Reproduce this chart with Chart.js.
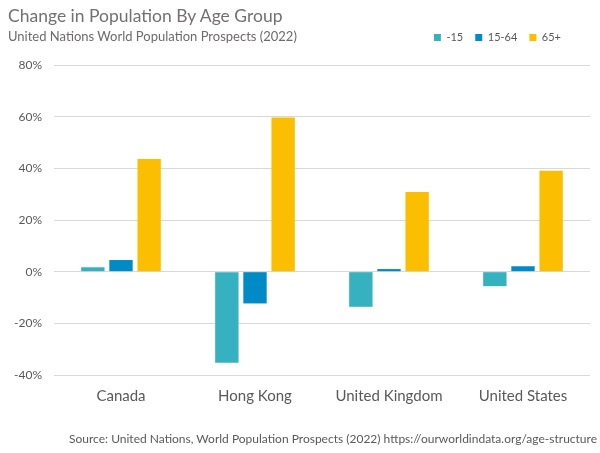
<!DOCTYPE html>
<html lang="en">
<head>
<meta charset="UTF-8">
<title>Change in Population By Age Group</title>
<script src="https://cdn.jsdelivr.net/npm/chart.js"></script>
<style>
    body { margin: 0; background: #fff; font-family: Lato, sans-serif; }
    .quadro { position: relative; width: 600px; height: 453px; }
    .quadro canvas { position: absolute; left: 0; top: 0; }
    .titulo { position: absolute; left: 8px; top: 5px; font-size: 17.5px; color: #757070; }
    .subtitulo { position: absolute; left: 8px; top: 28px; font-size: 13px; color: #6f6a6a; }
    .fonte { position: absolute; right: 3px; top: 431px; font-size: 12px; color: #595959; }
</style>
</head>
<body>
<div class="quadro">
    <canvas id="grafico" width="600" height="453"></canvas>
    <div class="titulo">Change in Population By Age Group</div>
    <div class="subtitulo">United Nations World Population Prospects (2022)</div>
    <div class="fonte">Source: United Nations, World Population Prospects (2022) https://ourworldindata.org/age-structure</div>
</div>

<script>
    // dados
    const paises = ['Canada', 'Hong Kong', 'United Kingdom', 'United States'];
    const grupos = ['-15', '15-64', '65+'];
    const menos15 = [1.7, -35.3, -13.6, -5.6];
    const de15a64 = [4.5, -12.3, 1.0, 2.1];
    const mais65 = [43.6, 59.7, 30.8, 39.1];
    const ticksY = [-40, -20, 0, 20, 40, 60, 80];

    const cores = ['#35b1c0', '#008ac6', '#fbbe00'];
    const series = [menos15, de15a64, mais65];

    // espaco abaixo da legenda e legenda um pouco mais para a esquerda
    const ajusteLegenda = {
        id: 'ajusteLegenda',
        beforeInit(chart) {
            const fitOriginal = chart.legend.fit;
            chart.legend.fit = function () {
                fitOriginal.bind(chart.legend)();
                this.height += 12;
            };
        },
        afterLayout(chart) {
            chart.legend.right -= 17;
        }
    };

    new Chart(document.getElementById('grafico'), {
        type: 'bar',
        data: {
            labels: paises,
            datasets: grupos.map((g, i) => ({
                label: g,
                data: series[i],
                backgroundColor: cores[i],
                categoryPercentage: 0.63,
                barPercentage: 0.83
            }))
        },
        options: {
            responsive: false,
            animation: false,
            layout: { padding: { top: 20, left: 2, right: 10, bottom: 44 } },
            plugins: {
                legend: {
                    align: 'end',
                    labels: {
                        boxWidth: 7,
                        boxHeight: 7,
                        padding: 12,
                        color: '#595959',
                        font: { family: 'Lato', size: 11 }
                    }
                },
                tooltip: { enabled: false }
            },
            scales: {
                x: {
                    grid: { display: false },
                    border: { display: false },
                    ticks: { color: '#595959', padding: 4, font: { family: 'Lato', size: 15 } }
                },
                y: {
                    min: ticksY[0],
                    max: ticksY[ticksY.length - 1],
                    afterBuildTicks: axis => { axis.ticks = ticksY.map(v => ({ value: v })); },
                    grid: { color: '#d9d9d9', drawTicks: false },
                    border: { display: false },
                    ticks: {
                        color: '#595959',
                        padding: 12,
                        font: { family: 'Lato', size: 12 },
                        callback: v => v + '%'
                    }
                }
            }
        },
        plugins: [ajusteLegenda]
    });
</script>
</body>
</html>
